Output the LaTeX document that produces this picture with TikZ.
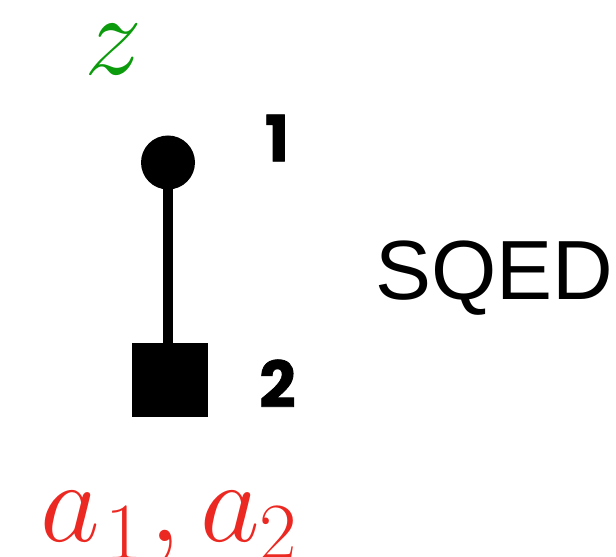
\documentclass[tikz,border=0pt]{standalone}
\usepackage{fix-cm}
\usepackage{fontspec}
\newfontfamily\numfont{Poppins}[BoldFeatures={FakeBold=1.2}]
\newfontfamily\namefont{Liberation Sans}
\usetikzlibrary{positioning}
\definecolor{zgreen}{RGB}{12,155,12}
\definecolor{ared}{RGB}{236,40,34}
\tikzset{
  vertex/.style={
    inner sep = 0,
    shape = circle,
    minimum size = 54pt,
    fill
  },
  boxvertex/.style={
    inner sep = 0,
    minimum width = 76pt,
    minimum height = 74pt,
    fill
  },
  sitelabel/.style={
    inner sep = 0,
    font=\fontsize{64}{66}\numfont\bfseries
  },
  every picture/.style = {
    x=1pt, y=1pt
  }
}
\begin{document}
\begin{tikzpicture}
    \useasboundingbox (0,0) rectangle (616,557);
    \node[vertex] (c1) at (168,394.5) {};
    \node[boxvertex] (s2) at (170,177) {};
    \draw[line width=10pt] (c1.center) -- (c1.center |- s2.north);
    \node[sitelabel] (n1) at (277,419) {1};
    \node[sitelabel] (n2) at (277.5,173.5) {2};
    \node[inner sep=0, anchor=base west, font=\fontsize{84}{86}\namefont] (name) at (375,257) {SQED};
    \node[inner sep=0, anchor=base west, text=zgreen, font=\fontsize{116}{120}\selectfont] (z) at (84,482) {$z$};
    \node[inner sep=0, anchor=base west, text=ared, font=\fontsize{116}{120}\selectfont] (a) at (40,15) {$a_{\mkern1.2mu 1}\mkern1mu,a_2$};
\end{tikzpicture}
\end{document}
